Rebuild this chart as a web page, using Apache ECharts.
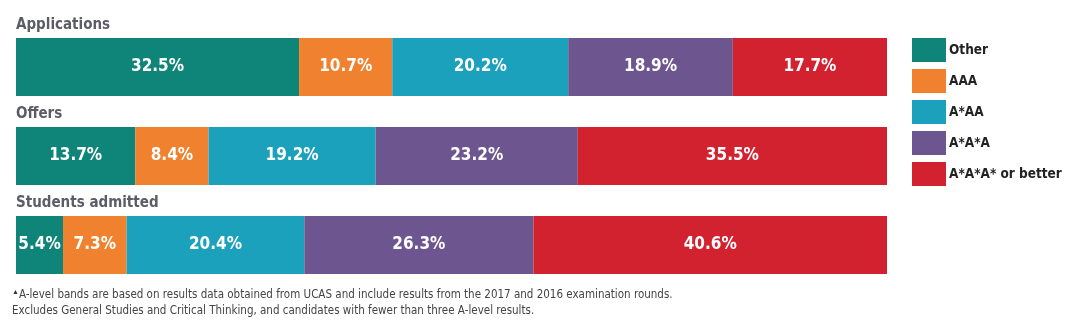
<!DOCTYPE html>
<html><head><meta charset="utf-8">
<script src="https://cdn.jsdelivr.net/npm/echarts@6/dist/echarts.min.js"></script>
<style>html,body{margin:0;padding:0;background:#fff}#c{width:1080px;height:328px}</style>
</head><body><div id="c"></div>
<script>
const categories = ['Applications', 'Offers', 'Students admitted'];
const grades = ['Other', 'AAA', 'A*AA', 'A*A*A', 'A*A*A* or better'];
const other = [32.5, 13.7, 5.4];
const aaa = [10.7, 8.4, 7.3];
const astarAA = [20.2, 19.2, 20.4];
const astarAstarA = [18.9, 23.2, 26.3];
const astarAstarAstar = [17.7, 35.5, 40.6];
const footnote1 = 'A-level bands are based on results data obtained from UCAS and include results from the 2017 and 2016 examination rounds.';
const footnote2 = 'Excludes General Studies and Critical Thinking, and candidates with fewer than three A-level results.';

const values = [other, aaa, astarAA, astarAstarA, astarAstarAstar];
const colors = ['#0f8479', '#f0812e', '#1ca1bd', '#6d568f', '#d2222f'];
const FONT = '"Liberation Sans Narrow", "DejaVu Sans Condensed", "Open Sans", sans-serif';
const tops = [38, 127, 216];
const barH = 58;

const grids = [], xAxes = [], yAxes = [], series = [], titles = [];
categories.forEach((cat, i) => {
  grids.push({left: 16, right: 193, top: tops[i], height: barH});
  xAxes.push({type: 'value', gridIndex: i, min: 0, max: 100, show: false});
  yAxes.push({type: 'category', gridIndex: i, data: [cat], show: false});
  titles.push({text: cat, left: 11, top: tops[i] - 25,
    textStyle: {fontFamily: FONT, fontSize: 15, fontWeight: 'bold', color: '#5b5c66'}});
  grades.forEach((g, k) => {
    series.push({
      type: 'bar', name: g, stack: 'row' + i, xAxisIndex: i, yAxisIndex: i,
      barWidth: barH, data: [values[k][i]],
      itemStyle: {color: colors[k]},
      label: {show: true, position: 'inside', color: '#fff', fontFamily: FONT,
        fontSize: 17, fontWeight: 'bold', formatter: p => p.value.toFixed(1) + '%'},
      emphasis: {disabled: true}, animation: false
    });
  });
});

const chart = echarts.init(document.getElementById('c'));
chart.setOption({
  animation: false,
  title: titles,
  grid: grids, xAxis: xAxes, yAxis: yAxes, series: series,
  legend: {
    data: grades, orient: 'vertical', left: 912, top: 38, padding: 0,
    itemWidth: 34, itemHeight: 24, itemGap: 7, icon: 'rect',
    textStyle: {fontFamily: FONT, fontSize: 13.5, fontWeight: 'bold', color: '#222', padding: [0,0,0,-2]},
    selectedMode: false
  },
  graphic: [
    {type: 'text', left: 12, top: 289, style: {
      text: '{s|▲}' + footnote1,
      rich: {s: {fontSize: 7, verticalAlign: 'top', lineHeight: 9, fill: '#333'}},
      fontFamily: FONT, fontSize: 11.5, fill: '#444'}},
    {type: 'text', left: 12, top: 305, style: {
      text: footnote2, fontFamily: FONT, fontSize: 11.5, fill: '#444'}}
  ]
});
</script></body></html>
